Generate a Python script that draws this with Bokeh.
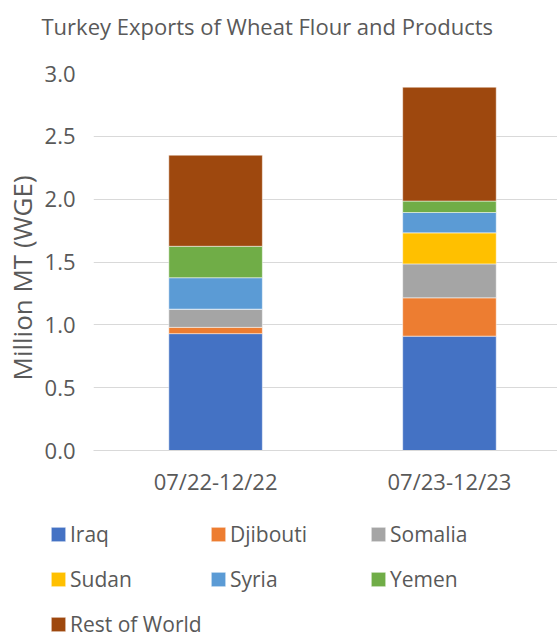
from bokeh.plotting import figure
from bokeh.layouts import column, row
from bokeh.models import (ColumnDataSource, Range1d, Legend, LegendItem, Title, Label,
                          FixedTicker, NumeralTickFormatter)
from bokeh.embed import file_html
from bokeh.resources import INLINE

# ---- data ----
periods = ["07/22-12/22", "07/23-12/23"]
countries = ["Iraq", "Djibouti", "Somalia", "Sudan", "Syria", "Yemen", "Rest of World"]
iraq = [0.93, 0.91]
djibouti = [0.05, 0.305]
somalia = [0.145, 0.27]
sudan = [0.0, 0.247]
syria = [0.25, 0.162]
yemen = [0.25, 0.091]
rest_of_world = [0.725, 0.906]
colors = ["#4472C4", "#ED7D31", "#A5A5A5", "#FFC000", "#5B9BD5", "#70AD47", "#9E480E"]
y_ticks = [0.0, 0.5, 1.0, 1.5, 2.0, 2.5, 3.0]
title_text = "Turkey Exports of Wheat Flour and Products"
y_label = "Million MT (WGE)"

FONT = "Open Sans"
TXT = "#595959"
GRID = "#D9D9D9"
W = 557
TITLE_H = 53
MAIN_H = 452
LEG_H = 127


def strip(h):
    f = figure(width=W, height=h, output_backend="svg", toolbar_location=None,
               x_range=Range1d(0, W), y_range=Range1d(0, h),
               x_axis_location=None, y_axis_location=None,
               min_border_left=0, min_border_right=0, min_border_top=0,
               min_border_bottom=0)
    f.outline_line_color = None
    f.grid.visible = False
    f.background_fill_color = "white"
    f.border_fill_color = "white"
    return f


# ---- title strip ----
ts = strip(TITLE_H)
ts.add_layout(Label(x=41, y=TITLE_H - 25, text=title_text, text_font=FONT,
                    text_font_size="22px", text_color=TXT, text_align="left",
                    text_baseline="middle"))

# ---- main chart ----
xs = list(range(len(periods)))
data = dict(x=xs, Iraq=iraq, Djibouti=djibouti, Somalia=somalia, Sudan=sudan,
            Syria=syria, Yemen=yemen, **{"Rest of World": rest_of_world})
src = ColumnDataSource(data)

p = figure(width=W, height=MAIN_H, output_backend="svg", toolbar_location=None,
           x_range=Range1d(-0.522, 1.462), y_range=Range1d(0, 3.0),
           min_border_left=92, min_border_right=0, min_border_top=20,
           min_border_bottom=55)
p.outline_line_color = None
p.background_fill_color = "white"
p.border_fill_color = "white"

p.vbar_stack(countries, x="x", width=0.4, source=src, color=colors,
             line_color="white", line_width=0.5)

p.xaxis.ticker = FixedTicker(ticks=xs)
p.xaxis.major_label_overrides = {i: lab for i, lab in zip(xs, periods)}
p.xaxis.major_tick_line_color = None
p.xaxis.minor_tick_line_color = None
p.xaxis.axis_line_color = GRID
p.xaxis.major_label_text_font = FONT
p.xaxis.major_label_text_font_size = "22px"
p.xaxis.major_label_text_color = TXT
p.xaxis.major_label_standoff = 9

p.yaxis.ticker = FixedTicker(ticks=y_ticks)
p.yaxis.formatter = NumeralTickFormatter(format="0.0")
p.yaxis.major_tick_line_color = None
p.yaxis.minor_tick_line_color = None
p.yaxis.axis_line_color = None
p.yaxis.major_label_text_font = FONT
p.yaxis.major_label_text_font_size = "22px"
p.yaxis.major_label_text_color = TXT
p.yaxis.major_label_standoff = 12

p.xgrid.grid_line_color = None
p.ygrid.grid_line_color = GRID
p.ygrid.grid_line_width = 1

p.add_layout(Title(text=y_label, align="left", offset=70, standoff=3,
                   text_font=FONT, text_font_size="26px", text_font_style="normal",
                   text_color=TXT), "left")

# ---- legend strip (its bars lie outside the visible range) ----
lg = figure(width=W, height=LEG_H, output_backend="svg", toolbar_location=None,
            x_range=Range1d(0, 1), y_range=Range1d(100, 101),
            x_axis_location=None, y_axis_location=None,
            min_border_left=0, min_border_right=0, min_border_top=0,
            min_border_bottom=0)
lg.outline_line_color = None
lg.grid.visible = False
lg.background_fill_color = "white"
lg.border_fill_color = "white"
leg_src = ColumnDataSource(data)
leg_rends = lg.vbar_stack(countries, x="x", width=0.4, source=leg_src, color=colors,
                          line_color="white", line_width=0.5)
rmap = dict(zip(countries, leg_rends))

col_groups = [["Iraq", "Sudan", "Rest of World"], ["Djibouti", "Syria"], ["Somalia", "Yemen"]]
ITEM_H = 29
GAP = 16
TOP = 14
for k, grp in enumerate(col_groups):
    n = len(grp)
    hgt = n * ITEM_H + (n - 1) * GAP
    vy = LEG_H - TOP - hgt
    leg = Legend(items=[LegendItem(label=c, renderers=[rmap[c]]) for c in grp],
                 location=(49 + 160 * k, vy), orientation="vertical",
                 glyph_width=18, glyph_height=18, label_height=ITEM_H,
                 label_standoff=3, spacing=GAP, padding=0, margin=0,
                 border_line_color=None, background_fill_alpha=0,
                 label_text_font=FONT, label_text_font_size="21px",
                 label_text_color=TXT)
    lg.add_layout(leg, "center")

layout = column(row(ts), p, row(lg), spacing=0)
open("out.html", "w").write(file_html(layout, INLINE))
